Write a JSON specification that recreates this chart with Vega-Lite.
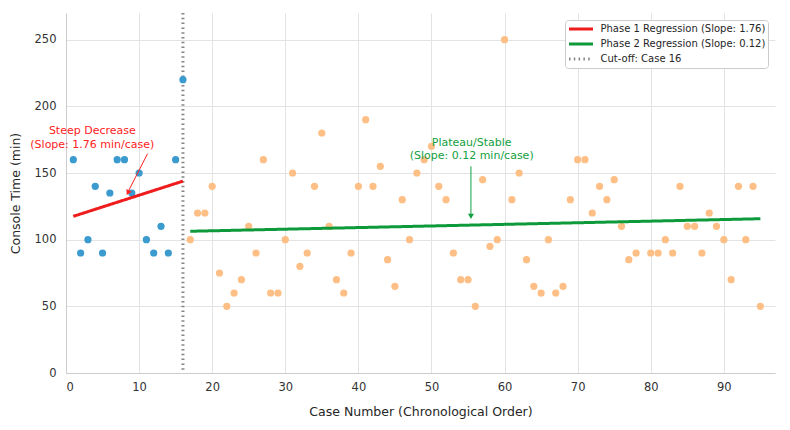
{
  "$schema": "https://vega.github.io/schema/vega-lite/v6.json",
  "width": 709,
  "height": 360,
  "autosize": {"type": "none"},
  "padding": {"left": 66, "top": 13, "right": 15, "bottom": 57},
  "config": {
    "font": "DejaVu Sans",
    "view": {"stroke": null},
    "axis": {
      "grid": true,
      "gridColor": "#e3e3e3",
      "gridWidth": 1,
      "domainColor": "#cccccc",
      "ticks": false,
      "labelFontSize": 11.5,
      "labelColor": "#333333",
      "titleFontSize": 12.5,
      "titleFontWeight": "normal",
      "titleColor": "#262626"
    },
    "axisX": {"labelPadding": 8, "titlePadding": 13},
    "axisY": {"labelPadding": 10, "titlePadding": 12},
    "legend": {
      "orient": "top-right",
      "offset": 7,
      "fillColor": "white",
      "strokeColor": "#cccccc",
      "cornerRadius": 3,
      "padding": 2.5,
      "labelFontSize": 10,
      "labelColor": "#262626",
      "labelOffset": 20,
      "labelLimit": 0,
      "symbolType": "M-1,0H3.8",
      "symbolSize": 100,
      "rowPadding": 2
    }
  },
  "datasets": {
    "phase1": [
      {"case": 1, "time": 160}, {"case": 2, "time": 90}, {"case": 3, "time": 100}, {"case": 4, "time": 140},
      {"case": 5, "time": 90}, {"case": 6, "time": 135}, {"case": 7, "time": 160}, {"case": 8, "time": 160},
      {"case": 9, "time": 135}, {"case": 10, "time": 150}, {"case": 11, "time": 100}, {"case": 12, "time": 90},
      {"case": 13, "time": 110}, {"case": 14, "time": 90}, {"case": 15, "time": 160}, {"case": 16, "time": 220}
    ],
    "phase2": [
      {"case": 17, "time": 100}, {"case": 18, "time": 120}, {"case": 19, "time": 120}, {"case": 20, "time": 140},
      {"case": 21, "time": 75}, {"case": 22, "time": 50}, {"case": 23, "time": 60}, {"case": 24, "time": 70},
      {"case": 25, "time": 110}, {"case": 26, "time": 90}, {"case": 27, "time": 160}, {"case": 28, "time": 60},
      {"case": 29, "time": 60}, {"case": 30, "time": 100}, {"case": 31, "time": 150}, {"case": 32, "time": 80},
      {"case": 33, "time": 90}, {"case": 34, "time": 140}, {"case": 35, "time": 180}, {"case": 36, "time": 110},
      {"case": 37, "time": 70}, {"case": 38, "time": 60}, {"case": 39, "time": 90}, {"case": 40, "time": 140},
      {"case": 41, "time": 190}, {"case": 42, "time": 140}, {"case": 43, "time": 155}, {"case": 44, "time": 85},
      {"case": 45, "time": 65}, {"case": 46, "time": 130}, {"case": 47, "time": 100}, {"case": 48, "time": 150},
      {"case": 49, "time": 160}, {"case": 50, "time": 170}, {"case": 51, "time": 140}, {"case": 52, "time": 130},
      {"case": 53, "time": 90}, {"case": 54, "time": 70}, {"case": 55, "time": 70}, {"case": 56, "time": 50},
      {"case": 57, "time": 145}, {"case": 58, "time": 95}, {"case": 59, "time": 100}, {"case": 60, "time": 250},
      {"case": 61, "time": 130}, {"case": 62, "time": 150}, {"case": 63, "time": 85}, {"case": 64, "time": 65},
      {"case": 65, "time": 60}, {"case": 66, "time": 100}, {"case": 67, "time": 60}, {"case": 68, "time": 65},
      {"case": 69, "time": 130}, {"case": 70, "time": 160}, {"case": 71, "time": 160}, {"case": 72, "time": 120},
      {"case": 73, "time": 140}, {"case": 74, "time": 130}, {"case": 75, "time": 145}, {"case": 76, "time": 110},
      {"case": 77, "time": 85}, {"case": 78, "time": 90}, {"case": 80, "time": 90}, {"case": 81, "time": 90},
      {"case": 82, "time": 100}, {"case": 83, "time": 90}, {"case": 84, "time": 140}, {"case": 85, "time": 110},
      {"case": 86, "time": 110}, {"case": 87, "time": 90}, {"case": 88, "time": 120}, {"case": 89, "time": 110},
      {"case": 90, "time": 100}, {"case": 91, "time": 70}, {"case": 92, "time": 140}, {"case": 93, "time": 100},
      {"case": 94, "time": 140}, {"case": 95, "time": 50}
    ],
    "regression": [
      {"case": 1, "time": 117.5, "series": "Phase 1 Regression (Slope: 1.76)"},
      {"case": 16, "time": 143.9, "series": "Phase 1 Regression (Slope: 1.76)"},
      {"case": 17, "time": 106.3, "series": "Phase 2 Regression (Slope: 0.12)"},
      {"case": 95, "time": 115.7, "series": "Phase 2 Regression (Slope: 0.12)"}
    ],
    "cutoff": [
      {"case": 16, "series": "Cut-off: Case 16"}
    ]
  },
  "layer": [
    {
      "data": {"name": "cutoff"},
      "mark": {"type": "rule"},
      "encoding": {
        "x": {
          "field": "case", "type": "quantitative",
          "scale": {"domain": [0, 97], "nice": false, "zero": false},
          "axis": {"values": [0, 10, 20, 30, 40, 50, 60, 70, 80, 90], "title": "Case Number (Chronological Order)"}
        },
        "color": {"field": "series", "type": "nominal", "title": null,
          "scale": {"domain": ["Phase 1 Regression (Slope: 1.76)", "Phase 2 Regression (Slope: 0.12)", "Cut-off: Case 16"], "range": ["#ee1c1c", "#0e9a3a", "#858585"]}},
        "strokeDash": {"field": "series", "type": "nominal", "title": null,
          "scale": {"domain": ["Phase 1 Regression (Slope: 1.76)", "Phase 2 Regression (Slope: 0.12)", "Cut-off: Case 16"], "range": [[1, 0], [1, 0], [1.5, 3.3]]}},
        "strokeWidth": {"field": "series", "type": "nominal", "title": null,
          "scale": {"domain": ["Phase 1 Regression (Slope: 1.76)", "Phase 2 Regression (Slope: 0.12)", "Cut-off: Case 16"], "range": [3, 3, 1.5]}}
      }
    },
    {
      "data": {"name": "phase1"},
      "mark": {"type": "circle", "size": 52, "color": "#3b9bcf", "opacity": 1},
      "encoding": {
        "x": {"field": "case", "type": "quantitative"},
        "y": {
          "field": "time", "type": "quantitative",
          "scale": {"domain": [0, 270], "nice": false},
          "axis": {"values": [0, 50, 100, 150, 200, 250], "title": "Console Time (min)"}
        }
      }
    },
    {
      "data": {"name": "phase2"},
      "mark": {"type": "circle", "size": 52, "color": "#fdbf86", "opacity": 1},
      "encoding": {
        "x": {"field": "case", "type": "quantitative"},
        "y": {"field": "time", "type": "quantitative"}
      }
    },
    {
      "data": {"name": "regression"},
      "mark": {"type": "line"},
      "encoding": {
        "x": {"field": "case", "type": "quantitative"},
        "y": {"field": "time", "type": "quantitative"},
        "color": {"field": "series", "type": "nominal", "title": null},
        "strokeDash": {"field": "series", "type": "nominal", "title": null},
        "strokeWidth": {"field": "series", "type": "nominal", "title": null}
      }
    },
    {
      "data": {"values": [{}]},
      "mark": {"type": "rule", "color": "#ff2222", "strokeWidth": 1},
      "encoding": {
        "x": {"datum": 11.16}, "y": {"datum": 164.5},
        "x2": {"datum": 8.5}, "y2": {"datum": 136}
      }
    },
    {
      "data": {"values": [{}]},
      "mark": {"type": "point", "shape": "triangle-up", "filled": true, "size": 36, "angle": 207, "color": "#ff2222", "opacity": 1},
      "encoding": {"x": {"datum": 8.47}, "y": {"datum": 135.2}}
    },
    {
      "data": {"values": [{}]},
      "mark": {"type": "text", "text": ["Steep Decrease", "(Slope: 1.76 min/case)"], "align": "center", "baseline": "middle", "fontSize": 11, "lineHeight": 13.5, "color": "#ff2222"},
      "encoding": {"x": {"datum": 3.6}, "y": {"datum": 181.5}}
    },
    {
      "data": {"values": [{}]},
      "mark": {"type": "rule", "color": "#12a040", "strokeWidth": 1},
      "encoding": {
        "x": {"datum": 55.4}, "y": {"datum": 155},
        "x2": {"datum": 55.4}, "y2": {"datum": 118}
      }
    },
    {
      "data": {"values": [{}]},
      "mark": {"type": "point", "shape": "triangle-down", "filled": true, "size": 36, "color": "#12a040", "opacity": 1},
      "encoding": {"x": {"datum": 55.4}, "y": {"datum": 117.5}}
    },
    {
      "data": {"values": [{}]},
      "mark": {"type": "text", "text": ["Plateau/Stable", "(Slope: 0.12 min/case)"], "align": "center", "baseline": "middle", "fontSize": 11, "lineHeight": 12.5, "color": "#12a040"},
      "encoding": {"x": {"datum": 55.5}, "y": {"datum": 172.5}}
    }
  ]
}
